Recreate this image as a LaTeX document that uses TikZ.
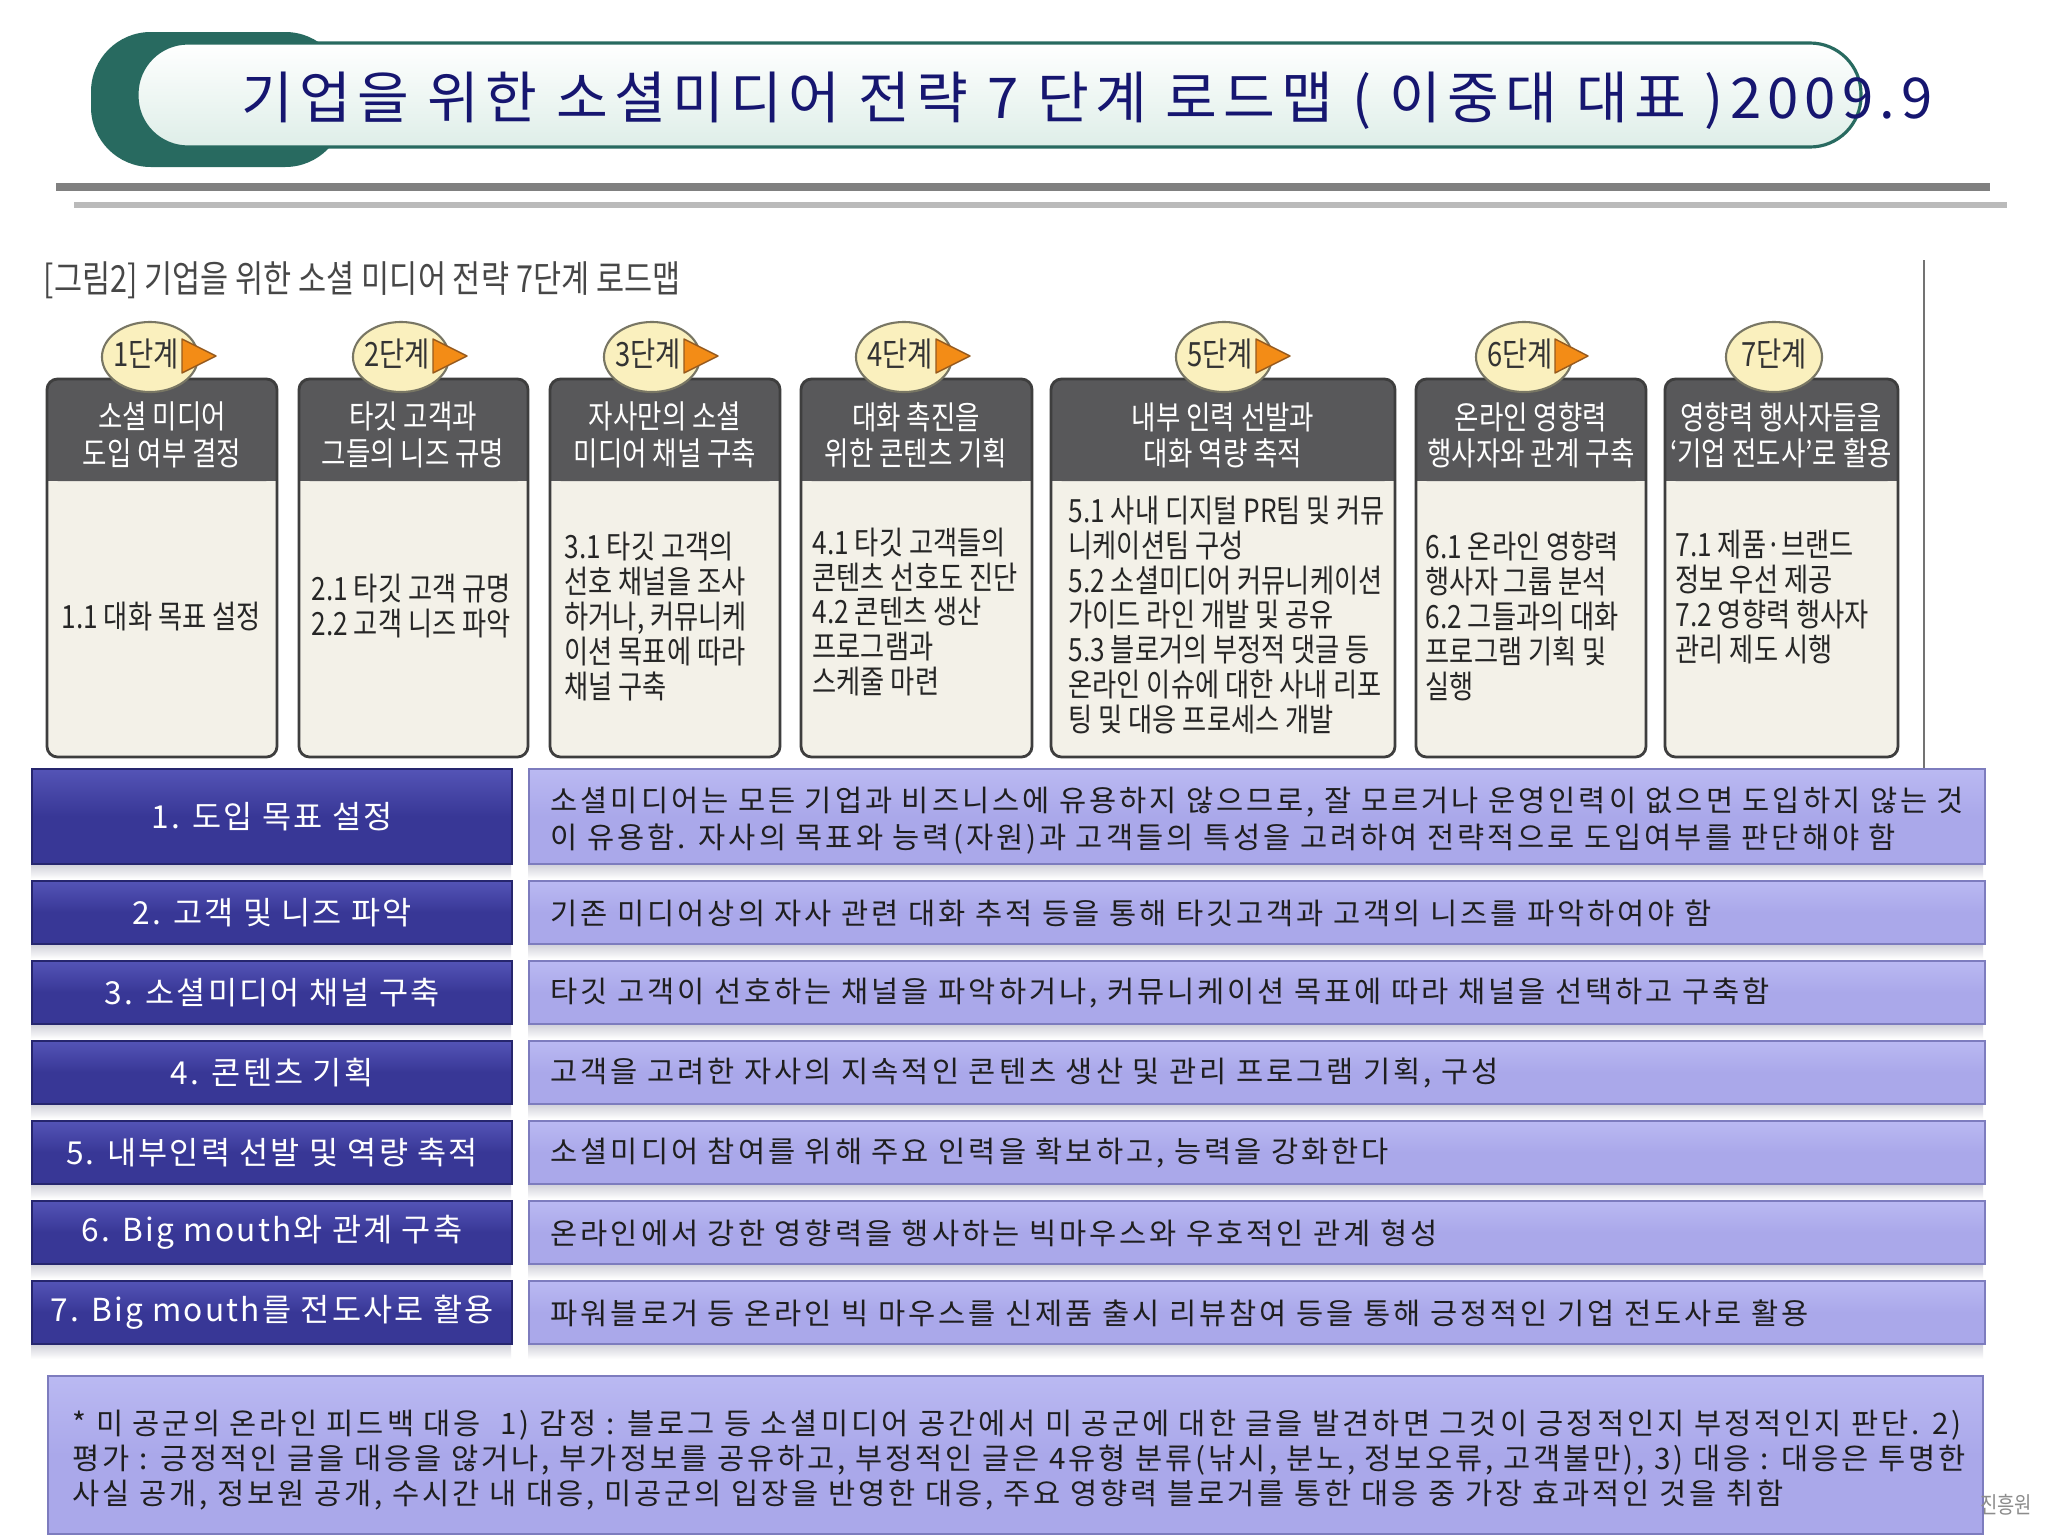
\documentclass[tikz,border=0pt]{standalone}
\usepackage{fontspec}
\setmainfont{Noto Sans CJK KR}
\newfontfamily\condfont[FakeStretch=0.82]{Noto Sans CJK KR}
\newfontfamily\rowfont[LetterSpace=10]{Noto Sans CJK KR}
\newfontfamily\leftfont[LetterSpace=7]{Noto Sans CJK KR}
\newfontfamily\titlefont[LetterSpace=11]{Noto Sans CJK KR}
\usetikzlibrary{shapes.geometric}
\definecolor{bannerteal}{RGB}{40,106,96}
\definecolor{pillmint}{RGB}{222,238,232}
\definecolor{titlenavy}{RGB}{22,22,112}
\definecolor{headgray}{RGB}{88,88,90}
\definecolor{cardcream}{RGB}{243,241,232}
\definecolor{cardline}{RGB}{62,62,62}
\definecolor{badgefill}{RGB}{250,240,190}
\definecolor{badgeline}{RGB}{120,118,100}
\definecolor{tiporange}{RGB}{243,140,22}
\definecolor{tipline}{RGB}{150,90,30}
\definecolor{rowblue}{RGB}{56,55,150}
\definecolor{rowbluetop}{RGB}{84,84,182}
\definecolor{rowedge}{RGB}{38,38,110}
\definecolor{rowlav}{RGB}{170,168,234}
\definecolor{rowlavtop}{RGB}{186,185,242}
\definecolor{lavedge}{RGB}{125,124,190}
\definecolor{shadegray}{RGB}{205,205,215}
\begin{document}
\begin{tikzpicture}[x=0.01cm,y=-0.01cm,
  cardbody/.style={fill=cardcream,rounded corners=3pt},
  cardhead/.style={fill=headgray},
  cardedge/.style={draw=cardline,line width=0.8pt,rounded corners=3pt},
  headtext/.style={text=white,align=center,inner sep=0pt,font=\condfont\fontsize{9.2}{10.3}\selectfont},
  bodytext/.style={anchor=west,inner sep=0pt,align=left,text=black!85,font=\condfont\fontsize{9.1}{9.95}\selectfont},
  badge/.style={ellipse,draw=badgeline,fill=badgefill,line width=0.6pt,minimum width=0.96cm,minimum height=0.70cm,inner sep=0pt},
  badgetext/.style={inner sep=0pt,text=black!80,font=\condfont\fontsize{9.5}{11}\selectfont},
  nexttip/.style={fill=tiporange,draw=tipline,line width=0.4pt,line join=round},
  leftrow/.style={anchor=north west,top color=rowbluetop,bottom color=rowblue,middle color=rowblue,draw=rowedge,line width=0.5pt,minimum width=4.8cm,minimum height=0.63cm,text=white,font=\leftfont\fontsize{9}{11}\selectfont},
  rightrow/.style={anchor=north west,top color=rowlavtop,bottom color=rowlav,middle color=rowlav,draw=lavedge,line width=0.5pt,minimum width=14.55cm,minimum height=0.63cm},
  rowtext/.style={anchor=west,inner sep=0pt,align=left,text=black!88,font=\rowfont\fontsize{8.4}{10.5}\selectfont}]
  \useasboundingbox (0,0) rectangle (2048,1536);
  \fill[white] (0,0) rectangle (2048,1536);

  \fill[bannerteal,rounded corners=17pt] (91,32) rectangle (345,167);
  \draw[bannerteal,line width=0.9pt,top color=white,bottom color=pillmint,rounded corners=14.5pt] (137,43) rectangle (1861,147);
  \node[text=titlenavy,font=\titlefont\fontsize{16}{18}\selectfont] (title) at (1087,101) {기업을 위한 소셜미디어 전략 7 단계 로드맵 ( 이중대 대표 )2009.9};
  \draw[line width=2pt,black!50] (56,187) -- (1990,187);
  \draw[line width=1.7pt,black!27] (74,205) -- (2007,205);

  \node[anchor=west,inner sep=0pt,text=black!72,font=\condfont\fontsize{10.6}{12}\selectfont] (fig) at (43,280) {[그림2] 기업을 위한 소셜 미디어 전략 7단계 로드맵};
  \draw[black!55,line width=0.4pt] (1924,260) -- (1924,768);

  \fill[cardbody] (47,379) rectangle (277,757);
  \fill[cardhead,rounded corners=3pt] (47,379) rectangle (277,481);
  \fill[cardhead] (47,460) rectangle (277,481);
  \draw[cardedge] (47,379) rectangle (277,757);
  \fill[cardbody] (299,379) rectangle (528,757);
  \fill[cardhead,rounded corners=3pt] (299,379) rectangle (528,481);
  \fill[cardhead] (299,460) rectangle (528,481);
  \draw[cardedge] (299,379) rectangle (528,757);
  \fill[cardbody] (550,379) rectangle (780,757);
  \fill[cardhead,rounded corners=3pt] (550,379) rectangle (780,481);
  \fill[cardhead] (550,460) rectangle (780,481);
  \draw[cardedge] (550,379) rectangle (780,757);
  \fill[cardbody] (801,379) rectangle (1032,757);
  \fill[cardhead,rounded corners=3pt] (801,379) rectangle (1032,481);
  \fill[cardhead] (801,460) rectangle (1032,481);
  \draw[cardedge] (801,379) rectangle (1032,757);
  \fill[cardbody] (1051,379) rectangle (1395,757);
  \fill[cardhead,rounded corners=3pt] (1051,379) rectangle (1395,481);
  \fill[cardhead] (1051,460) rectangle (1395,481);
  \draw[cardedge] (1051,379) rectangle (1395,757);
  \fill[cardbody] (1416,379) rectangle (1646,757);
  \fill[cardhead,rounded corners=3pt] (1416,379) rectangle (1646,481);
  \fill[cardhead] (1416,460) rectangle (1646,481);
  \draw[cardedge] (1416,379) rectangle (1646,757);
  \fill[cardbody] (1665,379) rectangle (1898,757);
  \fill[cardhead,rounded corners=3pt] (1665,379) rectangle (1898,481);
  \fill[cardhead] (1665,460) rectangle (1898,481);
  \draw[cardedge] (1665,379) rectangle (1898,757);

  \node[headtext] (h1) at (162,435) {소셜 미디어\\도입 여부 결정};
  \node[headtext] (h2) at (413,435) {타깃 고객과\\그들의 니즈 규명};
  \node[headtext] (h3) at (665,435) {자사만의 소셜\\미디어 채널 구축};
  \node[headtext] (h4) at (916,435) {대화 촉진을\\위한 콘텐츠 기획};
  \node[headtext] (h5) at (1223,435) {내부 인력 선발과\\대화 역량 축적};
  \node[headtext] (h6) at (1531,435) {온라인 영향력\\행사자와 관계 구축};
  \node[headtext] (h7) at (1781,435) {영향력 행사자들을\\‘기업 전도사’로 활용};

  \node[bodytext] (s1) at (61,617) {1.1 대화 목표 설정};
  \node[bodytext] (s2) at (311,606) {2.1 타깃 고객 규명\\2.2 고객 니즈 파악};
  \node[bodytext] (s3) at (564,617) {3.1 타깃 고객의\\선호 채널을 조사\\하거나, 커뮤니케\\이션 목표에 따라\\채널 구축};
  \node[bodytext] (s4) at (812,612) {4.1 타깃 고객들의\\콘텐츠 선호도 진단\\4.2 콘텐츠 생산\\프로그램과\\스케줄 마련};
  \node[bodytext] (s5) at (1068,615) {5.1 사내 디지털 PR팀 및 커뮤\\니케이션팀 구성\\5.2 소셜미디어 커뮤니케이션\\가이드 라인 개발 및 공유\\5.3 블로거의 부정적 댓글 등\\온라인 이슈에 대한 사내 리포\\팅 및 대응 프로세스 개발};
  \node[bodytext] (s6) at (1425,616) {6.1 온라인 영향력\\행사자 그룹 분석\\6.2 그들과의 대화\\프로그램 기획 및\\실행};
  \node[bodytext] (s7) at (1675,597) {7.1 제품·브랜드\\정보 우선 제공\\7.2 영향력 행사자\\관리 제도 시행};

  \node[badge] (b1) at (150,357) {};
  \node[badge] (b2) at (401,357) {};
  \node[badge] (b3) at (652,357) {};
  \node[badge] (b4) at (904,357) {};
  \node[badge] (b5) at (1224,357) {};
  \node[badge] (b6) at (1524,357) {};
  \node[badge] (b7) at (1774,357) {};
  \node[badgetext] (t1) at (146,354) {1단계};
  \node[badgetext] (t2) at (397,354) {2단계};
  \node[badgetext] (t3) at (648,354) {3단계};
  \node[badgetext] (t4) at (900,354) {4단계};
  \node[badgetext] (t5) at (1220,354) {5단계};
  \node[badgetext] (t6) at (1520,354) {6단계};
  \node[badgetext] (t7) at (1774,354) {7단계};
  \filldraw[nexttip] (182,339) -- (216,356) -- (182,373) -- cycle;
  \filldraw[nexttip] (433,339) -- (467,356) -- (433,373) -- cycle;
  \filldraw[nexttip] (684,339) -- (718,356) -- (684,373) -- cycle;
  \filldraw[nexttip] (936,339) -- (970,356) -- (936,373) -- cycle;
  \filldraw[nexttip] (1256,339) -- (1290,356) -- (1256,373) -- cycle;
  \filldraw[nexttip] (1555,339) -- (1588,356) -- (1555,373) -- cycle;

  \foreach \yb in {863,943,1023,1103,1183,1263,1343}
  {
    \fill[top color=shadegray,bottom color=white] (31,\yb) rectangle (511,\yb+16);
    \fill[top color=shadegray,bottom color=white] (528,\yb) rectangle (1983,\yb+16);
  }

  \node[leftrow,minimum height=0.95cm] (l1) at (31,768) {1. 도입 목표 설정};
  \node[leftrow] (l2) at (31,880) {2. 고객 및 니즈 파악};
  \node[leftrow] (l3) at (31,960) {3. 소셜미디어 채널 구축};
  \node[leftrow] (l4) at (31,1040) {4. 콘텐츠 기획};
  \node[leftrow] (l5) at (31,1120) {5. 내부인력 선발 및 역량 축적};
  \node[leftrow] (l6) at (31,1200) {6. Big mouth와 관계 구축};
  \node[leftrow] (l7) at (31,1280) {7. Big mouth를 전도사로 활용};

  \node[rightrow,minimum height=0.95cm] (r1) at (528,768) {};
  \node[rightrow] (r2) at (528,880) {};
  \node[rightrow] (r3) at (528,960) {};
  \node[rightrow] (r4) at (528,1040) {};
  \node[rightrow] (r5) at (528,1120) {};
  \node[rightrow] (r6) at (528,1200) {};
  \node[rightrow] (r7) at (528,1280) {};
  \node[rowtext] (d1) at (550,821) {소셜미디어는 모든 기업과 비즈니스에 유용하지 않으므로, 잘 모르거나 운영인력이 없으면 도입하지 않는 것\\이 유용함. 자사의 목표와 능력(자원)과 고객들의 특성을 고려하여 전략적으로 도입여부를 판단해야 함};
  \node[rowtext] (d2) at (550,913) {기존 미디어상의 자사 관련 대화 추적 등을 통해 타깃고객과 고객의 니즈를 파악하여야 함};
  \node[rowtext] (d3) at (550,993) {타깃 고객이 선호하는 채널을 파악하거나, 커뮤니케이션 목표에 따라 채널을 선택하고 구축함};
  \node[rowtext] (d4) at (550,1073) {고객을 고려한 자사의 지속적인 콘텐츠 생산 및 관리 프로그램 기획, 구성};
  \node[rowtext] (d5) at (550,1153) {소셜미디어 참여를 위해 주요 인력을 확보하고, 능력을 강화한다};
  \node[rowtext] (d6) at (550,1233) {온라인에서 강한 영향력을 행사하는 빅마우스와 우호적인 관계 형성};
  \node[rowtext] (d7) at (550,1313) {파워블로거 등 온라인 빅 마우스를 신제품 출시 리뷰참여 등을 통해 긍정적인 기업 전도사로 활용};

  \node[anchor=north west,top color=rowlavtop,bottom color=rowlav,middle color=rowlav,draw=lavedge,line width=0.6pt,minimum width=19.34cm,minimum height=1.58cm] (note) at (47,1375) {};
  \node[rowtext,font=\rowfont\fontsize{8.4}{9.95}\selectfont] (notetxt) at (72,1460) {* 미 공군의 온라인 피드백 대응\ \ 1) 감정 : 블로그 등 소셜미디어 공간에서 미 공군에 대한 글을 발견하면 그것이 긍정적인지 부정적인지 판단. 2)\\평가 : 긍정적인 글을 대응을 않거나, 부가정보를 공유하고, 부정적인 글은 4유형 분류(낚시, 분노, 정보오류, 고객불만), 3) 대응 : 대응은 투명한\\사실 공개, 정보원 공개, 수시간 내 대응, 미공군의 입장을 반영한 대응, 주요 영향력 블로거를 통한 대응 중 가장 효과적인 것을 취함};
  \node[text=black!45,inner sep=0pt,font=\condfont\fontsize{6.5}{8}\selectfont] (src) at (2006,1505) {진흥원};
\end{tikzpicture}
\end{document}
